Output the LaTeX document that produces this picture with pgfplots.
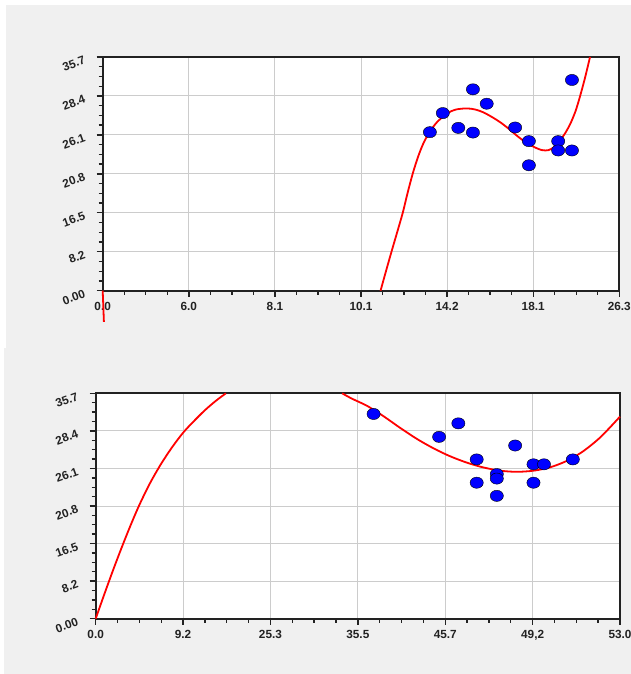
\documentclass[border=0pt]{standalone}
\usepackage{fontspec}
\setmainfont{Liberation Sans}
\usepackage{pgfplots}
\pgfplotsset{compat=1.18}
\definecolor{panelgray}{HTML}{F0F0F0}
\definecolor{gridgray}{HTML}{CCCCCC}
\definecolor{dotblue}{HTML}{0000FF}
\definecolor{fitred}{HTML}{FF0000}
\definecolor{ink}{HTML}{222222}

\pgfplotsset{
  panel/.style={
    scale only axis,
    xmin=0, xmax=6, ymin=0, ymax=6,
    xtick={0,...,6}, ytick={0,...,6},
    minor x tick num=3, minor y tick num=3,
    tick align=outside, xtick pos=bottom, ytick pos=left,
    major tick length=6pt, minor tick length=4pt,
    tick style={ink, line width=1.4pt},
    axis line style={ink, line width=1.8pt},
    grid=major, major grid style={gridgray, line width=1pt},
    yticklabels={0.00,8.2,16.5,20.8,26.1,28.4,35.7},
    ticklabel style={font=\fontsize{11.8}{13}\selectfont\bfseries, text=ink},
    yticklabel style={rotate=20, anchor=north east, inner sep=0pt, xshift=-12pt, yshift=6pt},
    xticklabel style={inner sep=0pt, yshift=-5pt},
    clip=false,
    axis background/.style={fill=white},
  },
  dots/.style={only marks, mark=*, mark size=5.6pt,
    mark options={xscale=1.18, fill=dotblue, draw=none}},
  fit/.style={fitred, line width=1.8pt, smooth, no marks},
}

\begin{document}
\begin{tikzpicture}[x=1pt,y=1pt]
\useasboundingbox (0,0) rectangle (631,674);
\fill[white] (0,0) rectangle (631,674);
\fill[panelgray] (6,326) rectangle (631,669);
\fill[panelgray] (4,0) rectangle (631,326);

% upper panel
\begin{axis}[panel, at={(102.7pt,383.3pt)}, anchor=south west,
  width=516.6pt, height=233.7pt,
  xticklabels={0.0,6.0,8.1,10.1,14.2,18.1,26.3}]
\addplot[dots] coordinates {
  (3.80,4.07) (3.95,4.56) (4.13,4.18) (4.30,5.17) (4.30,4.06)
  (4.46,4.80) (4.79,4.19) (4.95,3.84) (4.95,3.22) (5.29,3.84)
  (5.29,3.60) (5.45,5.41) (5.45,3.60)};
\addplot[fit] coordinates {
  (3.227,0) (3.29,0.5) (3.354,1.0) (3.42,1.5) (3.485,2.0) (3.54,2.5)
  (3.60,3.0) (3.66,3.42) (3.72,3.76) (3.79,4.05) (3.88,4.32) (4.0,4.55)
  (4.10,4.65) (4.23,4.68) (4.33,4.65) (4.42,4.58) (4.52,4.46)
  (4.62,4.32) (4.72,4.15) (4.81,3.98) (4.90,3.83) (5.0,3.70) (5.10,3.61)
  (5.18,3.61) (5.25,3.70) (5.31,3.85) (5.37,4.04) (5.43,4.28) (5.49,4.60)
  (5.54,4.96) (5.60,5.45) (5.66,6.0)};
\addplot[fitred, line width=1.8pt] coordinates {(0,0) (0.014,-0.8)};
\end{axis}

% lower panel
\begin{axis}[panel, at={(95.7pt,55.3pt)}, anchor=south west,
  width=524.3pt, height=225.4pt,
  xticklabels={0.0,9.2,25.3,35.5,45.7,{49,2},53.0}]
\addplot[dots] coordinates {
  (3.18,5.45) (3.93,4.84) (4.15,5.20) (4.36,4.24) (4.36,3.62)
  (4.59,3.85) (4.59,3.73) (4.59,3.27) (4.80,4.61) (5.01,4.11)
  (5.13,4.11) (5.01,3.62) (5.46,4.24)};
\addplot[fit] coordinates {
  (0,0) (0.10,0.66) (0.20,1.30) (0.30,1.91) (0.40,2.49) (0.50,3.03)
  (0.62,3.60) (0.74,4.09) (0.87,4.55) (1.0,4.95) (1.12,5.25) (1.25,5.55)
  (1.37,5.79) (1.49,6.0)};
\addplot[fit] coordinates {
  (2.82,6.0) (2.93,5.86) (3.11,5.66) (3.30,5.38) (3.49,5.07) (3.68,4.78)
  (3.87,4.53) (4.05,4.33) (4.24,4.16) (4.43,4.03) (4.63,3.94) (4.82,3.91)
  (5.01,3.94) (5.20,4.03) (5.39,4.20) (5.58,4.46) (5.78,4.84) (6.0,5.38)};
\end{axis}
\end{tikzpicture}
\end{document}
